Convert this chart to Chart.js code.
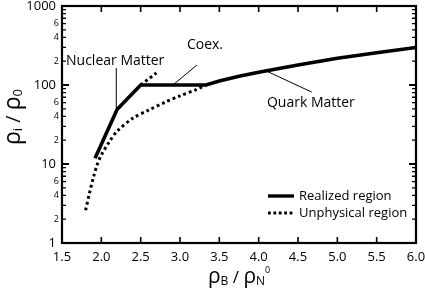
<!DOCTYPE html>
<html>
<head>
<meta charset="utf-8">
<script src="https://cdn.jsdelivr.net/npm/chart.js@4"></script>
<style>
    html, body { margin: 0; padding: 0; background: #fff; }
    #caixa { width: 425px; height: 293px; }
</style>
</head>
<body>
<div id="caixa"><canvas id="grafico"></canvas></div>
<script>

// dados
const realizadoX = [1.92, 2.2, 2.5, 3.33, 3.5, 3.75, 4.0, 4.5, 5.0, 5.5, 6.0];
const realizadoY = [11.8, 49, 100, 100, 112, 129, 145, 179, 218, 256, 298];

const naoFisicoX = [1.8, 1.85, 1.9, 1.95, 2.0, 2.1, 2.2, 2.4, 2.6, 2.8, 3.0, 3.2, 3.33];
const naoFisicoY = [2.6, 4.3, 6.8, 10, 13, 19, 26, 38, 48, 60, 73, 87, 100];

const extensaoX = [2.5, 2.7];
const extensaoY = [100, 142];

const ticksX = [1.5, 2.0, 2.5, 3.0, 3.5, 4.0, 4.5, 5.0, 5.5, 6.0];
const ticksYMaiores = [1, 10, 100, 1000];
const ticksYRotulados = [2, 4, 6];

const FONTE = '"Open Sans", "Noto Sans", sans-serif';

function pontos(xs, ys) {
    return xs.map((x, i) => ({ x: x, y: ys[i] }));
}

// texto com partes em tamanhos diferentes (subscritos / sobrescritos)
function textoComposto(ctx, partes, x, y) {
    let px = x;
    partes.forEach((p) => {
        ctx.font = p.tam + 'px ' + FONTE;
        ctx.fillText(p.t, px, y + (p.dy || 0));
        px += ctx.measureText(p.t).width;
    });
    return px - x;
}

function larguraComposta(ctx, partes) {
    let w = 0;
    partes.forEach((p) => {
        ctx.font = p.tam + 'px ' + FONTE;
        w += ctx.measureText(p.t).width;
    });
    return w;
}

const molduraPlugin = {
    id: 'moldura',
    afterDatasetsDraw(chart) {
        const ctx = chart.ctx;
        const a = chart.chartArea;
        const sx = chart.scales.x;
        const sy = chart.scales.y;

        ctx.save();
        ctx.strokeStyle = '#000';
        ctx.fillStyle = '#000';

        // caixa
        ctx.lineWidth = 2.2;
        ctx.strokeRect(a.left, a.top, a.right - a.left, a.bottom - a.top);

        // ticks x (para dentro, embaixo e em cima)
        ctx.lineWidth = 1.6;
        ctx.textAlign = 'center';
        ctx.textBaseline = 'middle';
        ctx.font = '13px ' + FONTE;
        ticksX.forEach((v) => {
            const px = sx.getPixelForValue(v);
            ctx.beginPath();
            ctx.moveTo(px, a.bottom);
            ctx.lineTo(px, a.bottom - 6);
            ctx.moveTo(px, a.top);
            ctx.lineTo(px, a.top + 6);
            ctx.stroke();
            ctx.fillText(v.toFixed(1), px, a.bottom + 14);
        });

        // ticks y (log)
        ctx.textAlign = 'right';
        for (let d = 1; d <= 1000; d *= 10) {
            for (let m = 1; m <= 9; m++) {
                const v = d * m;
                if (v > 1000) break;
                const py = sy.getPixelForValue(v);
                const maior = m === 1;
                const len = maior ? 7 : 4;
                ctx.lineWidth = maior ? 1.8 : 1.3;
                ctx.beginPath();
                ctx.moveTo(a.left, py);
                ctx.lineTo(a.left + len, py);
                ctx.moveTo(a.right, py);
                ctx.lineTo(a.right - len, py);
                ctx.stroke();
                if (ticksYMaiores.includes(v)) {
                    ctx.font = '13px ' + FONTE;
                    ctx.fillText(String(v), a.left - 6, py);
                } else if (d < 1000 && ticksYRotulados.includes(m)) {
                    ctx.font = '9px ' + FONTE;
                    ctx.fillText(String(m), a.left - 3, py);
                }
            }
        }

        // título do eixo x: ρB / ρN0
        ctx.textAlign = 'left';
        ctx.textBaseline = 'alphabetic';
        const tituloX = [
            { t: 'ρ', tam: 21 },
            { t: 'B', tam: 12, dy: 2 },
            { t: ' / ', tam: 17 },
            { t: 'ρ', tam: 21 },
            { t: 'N', tam: 12, dy: 2 },
            { t: '0', tam: 9, dy: -10 }
        ];
        const wx = larguraComposta(ctx, tituloX);
        textoComposto(ctx, tituloX, 208, a.bottom + 40);

        // título do eixo y: ρi / ρ0
        const tituloY = [
            { t: 'ρ', tam: 23 },
            { t: 'i', tam: 13, dy: 2 },
            { t: ' / ', tam: 20 },
            { t: 'ρ', tam: 23 },
            { t: '0', tam: 13, dy: 2 }
        ];
        const wy = larguraComposta(ctx, tituloY);
        ctx.save();
        ctx.translate(20, 117);
        ctx.rotate(-Math.PI / 2);
        textoComposto(ctx, tituloY, -wy / 2, 0);
        ctx.restore();

        // anotações com linhas de chamada
        ctx.font = '14px ' + FONTE;
        ctx.fillStyle = '#000';
        const notas = [
            { t: 'Nuclear Matter', tx: 1.551, ty: 179, l: [2.19, 164, 2.19, 51] },
            { t: 'Coex.', tx: 3.088, ty: 286, l: [3.215, 179, 2.91, 100] },
            { t: 'Quark Matter', tx: 4.105, ty: 52.7, l: [4.10, 150, 4.673, 81.5] }
        ];
        ctx.lineWidth = 1;
        notas.forEach((n) => {
            ctx.fillText(n.t, sx.getPixelForValue(n.tx), sy.getPixelForValue(n.ty));
            ctx.beginPath();
            ctx.moveTo(sx.getPixelForValue(n.l[0]), sy.getPixelForValue(n.l[1]));
            ctx.lineTo(sx.getPixelForValue(n.l[2]), sy.getPixelForValue(n.l[3]));
            ctx.stroke();
        });

        // legenda
        const lx = a.right - 148;
        const ly = a.bottom - 47;
        ctx.lineWidth = 3.4;
        ctx.beginPath();
        ctx.moveTo(lx, ly);
        ctx.lineTo(lx + 26, ly);
        ctx.stroke();
        ctx.setLineDash([2.8, 2.6]);
        ctx.lineWidth = 3;
        ctx.beginPath();
        ctx.moveTo(lx, ly + 17);
        ctx.lineTo(lx + 26, ly + 17);
        ctx.stroke();
        ctx.setLineDash([]);
        ctx.font = '13px ' + FONTE;
        ctx.textBaseline = 'middle';
        ctx.fillText('Realized region', lx + 31, ly);
        ctx.fillText('Unphysical region', lx + 31, ly + 17);

        ctx.restore();
    }
};

let grafico;

document.addEventListener('DOMContentLoaded', function() {
    const ctx = document.getElementById('grafico').getContext('2d');
    grafico = new Chart(ctx, {
        type: 'scatter',
        data: {
            datasets: [
                {
                    label: 'Realized region',
                    data: pontos(realizadoX, realizadoY),
                    showLine: true,
                    borderColor: '#000',
                    borderWidth: 3.6,
                    pointRadius: 0,
                    tension: 0
                },
                {
                    label: 'Unphysical region',
                    data: pontos(naoFisicoX, naoFisicoY),
                    showLine: true,
                    borderColor: '#000',
                    borderWidth: 3,
                    borderDash: [2.8, 3],
                    borderCapStyle: 'butt',
                    pointRadius: 0,
                    tension: 0.3
                },
                {
                    label: 'Unphysical region (ext.)',
                    data: pontos(extensaoX, extensaoY),
                    showLine: true,
                    borderColor: '#000',
                    borderWidth: 3,
                    borderDash: [2.8, 3],
                    borderCapStyle: 'butt',
                    pointRadius: 0
                }
            ]
        },
        options: {
            responsive: true,
            maintainAspectRatio: false,
            animation: false,
            layout: {
                padding: { left: 62, top: 6, right: 9, bottom: 50 }
            },
            plugins: {
                legend: { display: false },
                tooltip: { enabled: false }
            },
            scales: {
                x: {
                    type: 'linear',
                    min: 1.5,
                    max: 6.0,
                    display: false
                },
                y: {
                    type: 'logarithmic',
                    min: 1,
                    max: 1000,
                    display: false
                }
            }
        },
        plugins: [molduraPlugin]
    });
});
</script>
</body>
</html>
